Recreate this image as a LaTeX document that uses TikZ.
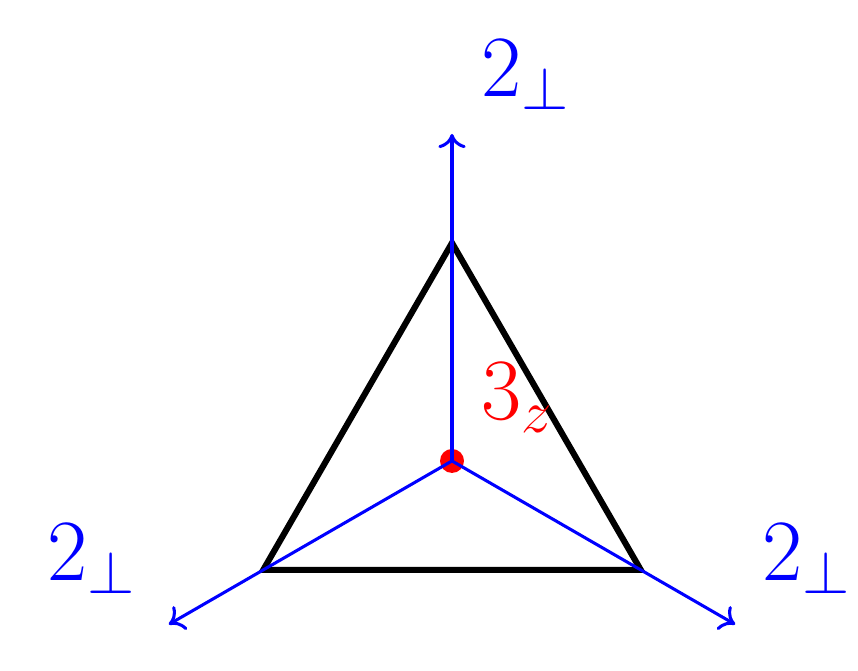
\documentclass[tikz,border=0pt]{standalone}
\usepackage{amsmath}
\usetikzlibrary{arrows.meta,positioning}

\begin{document}
\begin{tikzpicture}[
axis/.style={-{To[length=1.3mm, width=2.5mm]}, blue, thick},
edge/.style={ultra thick, line join=miter},
axlabel/.style={blue, font=\huge, scale=1.1, inner sep=0pt},
rotlabel/.style={red, font=\huge, scale=1.1, inner sep=0pt},
centre/.style={circle, fill=red, inner sep=0pt, minimum size=2.2mm}]
\useasboundingbox (-4.147,-1.927) rectangle (3.725,4.229);
\coordinate (O) at (0,0);
\foreach \v/\ang in {A/90, B/210, C/330}
{
\coordinate (\v) at (\ang:2);
\coordinate (\v end) at (\ang:3);
}
\node [centre] (dot) at (O) {};
\draw [edge] (A) -- (B) -- (C) -- cycle;
\foreach \v in {A, B, C}
\draw [axis] (O) -- (\v end);
\node [axlabel] (LA) at (0.68,3.54) {$2_\perp$};
\node [axlabel] (LB) at (-3.30,-0.90) {$2_\perp$};
\node [axlabel] (LC) at (3.26,-0.90) {$2_\perp$};
\node [rotlabel] (LZ) at (0.60,0.58) {$3_z$};
\end{tikzpicture}
\end{document}
